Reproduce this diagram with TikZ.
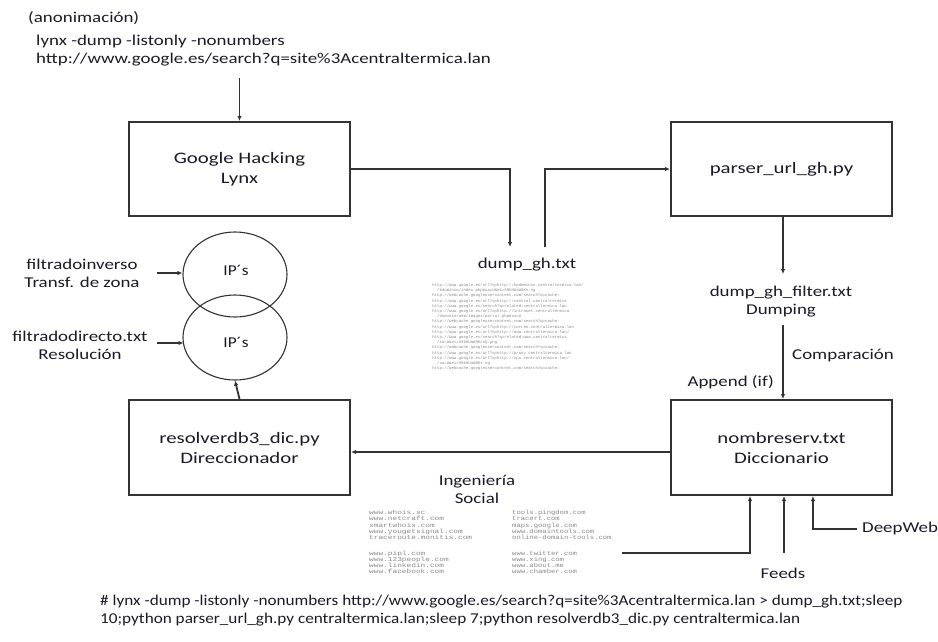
\documentclass[tikz,border=0pt]{standalone}
\usepackage{fontspec}
\setmainfont{Carlito}
\newfontfamily\monof{Liberation Mono}
\usepackage{graphicx}
\usetikzlibrary{arrows.meta,shapes.geometric}
\definecolor{linec}{HTML}{333333}
\definecolor{txtc}{HTML}{1A1A2A}
\definecolor{grayt}{HTML}{8A8A8A}
\newcommand\hs[1]{\scalebox{1.26}[1]{#1}}
\newcommand\bs[1]{\scalebox{1.3}[1]{#1}}
\newcommand\cs[1]{\scalebox{1.145}[1]{#1}}
\newcommand\ips[1]{\scalebox{1.15}[1]{#1}}
\newcommand\ms[1]{\scalebox{1.3}[1]{#1}}
\begin{document}
\begin{tikzpicture}[x=1pt,y=-1pt,
  box/.style={draw=linec, line width=2pt, minimum width=221pt, minimum height=94pt, inner sep=0pt, fill=white},
  lbl/.style={font=\fontsize{15}{18}\selectfont, align=center, inner sep=0pt, text=txtc},
  blbl/.style={font=\fontsize{16}{20}\selectfont, align=center, inner sep=0pt, text=txtc},
  lbll/.style={font=\fontsize{15}{18}\selectfont, align=left, inner sep=0pt, text=txtc},
  arr/.style={draw=linec, line width=1.8pt, -{Latex[length=5pt,width=4.5pt]}},
  ip/.style={draw=linec, line width=1.1pt, ellipse, minimum width=104pt, minimum height=85pt, inner sep=0pt},
  tiny/.style={font=\monof\fontsize{4}{5.2}\selectfont, text=grayt, align=left, inner sep=0pt},
  soc/.style={font=\monof\fontsize{6}{6.3}\selectfont, text=grayt, align=left, inner sep=0pt}]
\fill[white] (0,0) rectangle (938,641);
\useasboundingbox (0,0) rectangle (938,641);

% top texts
\node[lbll, anchor=west] (anon) at (28,18) {\hs{(anonimación)}};
\node[lbll, anchor=west] (cmd) at (36,51) {\hs{lynx -dump -listonly -nonumbers}\\\hs{http://www.google.es/search?q=site\%3Acentraltermica.lan}};
\coordinate (t) at (239.5,78);

% boxes
\node[box] (google) at (239.5,169) {};
\node[blbl] at (google) {\bs{Google Hacking}\\\bs{Lynx}};
\node[box] (parser) at (781.5,169) {};
\node[blbl] at (parser) {\bs{parser\_url\_gh.py}};
\node[box, minimum height=95pt] (resolver) at (239.5,447.5) {};
\node[blbl] at (resolver) {\bs{resolverdb3\_dic.py}\\\bs{Direccionador}};
\node[box, minimum height=95pt] (nombre) at (781.5,447.5) {};
\node[blbl] at (nombre) {\bs{nombreserv.txt}\\\bs{Diccionario}};

% ellipses
\node[ip] (ip1) at (235,274.5) {};
\node[ip] (ip2) at (235,337.5) {};
\node[lbl] at (236,270) {\ips{IP´s}};
\node[lbl] at (236,342) {\ips{IP´s}};

\node[lbl] (finv) at (82,273) {\hs{filtradoinverso}\\\hs{Transf. de zona}};
\node[lbl] (fdir) at (80,345) {\hs{filtradodirecto.txt}\\\hs{Resolución}};
\coordinate (a1) at (157,273);
\coordinate (a2) at (157,343);
\draw[arr] (a1) -- (ip1.west |- a1);
\draw[arr] (a2) -- (183.5,343);

% dump_gh
\coordinate (c1) at (510,247);
\coordinate (c2) at (545,247);
\node[lbl] (dump) at (527,265) {\hs{dump\_gh.txt}};
\node[tiny] (dumptxt) at (508,327) {%
http://www.google.es/url?q=http://hpdominio.centraltermica.lan/\\
\ \ /kdominio/index.php\&sa=U\&ei=S9kHUaW9Ks.ng\\
http://webcache.googleusercontent.com/search?q=cache:\\
http://www.google.es/url?q=http://central.centraltermica\\
http://www.google.es/search?q=related:centraltermica.lan\\
http://www.google.es/url?q=http://intranet.centraltermica\\
\ \ /dominio/web/images/portal.php\&sa=U\\
http://webcache.googleusercontent.com/search?q=cache:\\
http://www.google.es/url?q=http://correo.centraltermica.lan\\
http://www.google.es/url?q=http://www.centraltermica.lan/\\
http://www.google.es/search?q=related:www.centraltermica\\
\ \ /sa=U\&ei=S9kHUaW9KsnQ.png\\
http://webcache.googleusercontent.com/search?q=cache:\\
http://www.google.es/url?q=http://proxy.centraltermica.lan\\
http://www.google.es/url?q=http://vpn.centraltermica.lan/\\
\ \ /sa=U\&ei=S9kHUaW9Ks.ng\\
http://webcache.googleusercontent.com/search?q=cache:};

% dump_gh_filter
\coordinate (f1) at (783,274);
\node[lbl] (filter) at (781,302) {\hs{dump\_gh\_filter.txt}\\\hs{Dumping}};
\coordinate (f2) at (783,325);
\node[lbl, anchor=west] (comp) at (792,356) {\hs{Comparación}};
\node[lbl, anchor=east] (append) at (774,382) {\hs{Append (if)}};

% social
\node[lbl] (soc) at (477,489) {\hs{Ingeniería}\\\hs{Social}};
\node[soc, anchor=north west] (socl) at (369,510) {%
\ms{www.whois.sc}\\\ms{www.netcraft.com}\\\ms{smartwhois.com}\\\ms{www.yougetsignal.com}\\\ms{traceroute.monitis.com}\\[9pt]
\ms{www.pipl.com}\\\ms{www.123people.com}\\\ms{www.linkedin.com}\\\ms{www.facebook.com}};
\node[soc, anchor=north west] (socr) at (512,510) {%
\scalebox{1.2}[1]{tools.pingdom.com}\\\scalebox{1.2}[1]{tracert.com}\\\scalebox{1.2}[1]{maps.google.com}\\\scalebox{1.2}[1]{www.domaintools.com}\\\scalebox{1.2}[1]{online-domain-tools.com}\\[9pt]
\scalebox{1.2}[1]{www.twitter.com}\\\scalebox{1.2}[1]{www.xing.com}\\\scalebox{1.2}[1]{www.about.me}\\\scalebox{1.2}[1]{www.chamber.com}};

\coordinate (s1) at (622,553);
\coordinate (s2) at (784,553);
\node[lbl] (feeds) at (783,573) {\hs{Feeds}};
\node[lbl, anchor=west] (deep) at (862,528) {\hs{DeepWeb}};
\coordinate (s3) at (857,529);

% bottom command
\node[lbll, anchor=north west] (bottom) at (100,595) {\cs{\# lynx -dump -listonly -nonumbers http://www.google.es/search?q=site\%3Acentraltermica.lan > dump\_gh.txt;sleep}\\\cs{10;python parser\_url\_gh.py centraltermica.lan;sleep 7;python resolverdb3\_dic.py centraltermica.lan}};

% connectors
\draw[arr] (t) -- (google.north);
\draw[arr] (google.east) -| (c1);
\draw[arr] (c2) |- (parser.west);
\draw[arr] (parser.south -| f1) -- (f1);
\draw[arr] (f2) -- (f2 |- nombre.north);
\draw[arr] (nombre.west |- 0,452) -- (resolver.east |- 0,452);
\draw[arr] (resolver.north) -- (ip2.south);
\draw[arr] (s1) -| ([xshift=-31.5pt]nombre.south);
\draw[arr] (s2) -- (s2 |- nombre.south);
\draw[arr] (s3) -| ([xshift=31.5pt]nombre.south);
\end{tikzpicture}
\end{document}
